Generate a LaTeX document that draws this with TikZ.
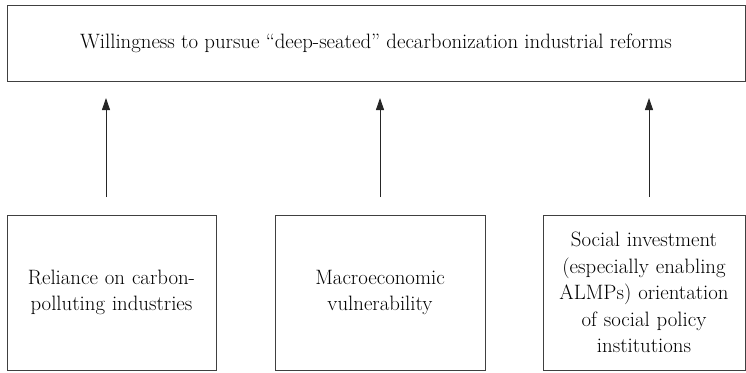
\documentclass[tikz,border=0pt]{standalone}
\usepackage{fontspec}
\usetikzlibrary{arrows.meta}

\begin{document}
\begin{tikzpicture}[x=1pt, y=-1pt,
  box/.style={draw=black!75, line width=1pt, align=center, inner sep=0pt,
              font=\fontsize{20.8}{26.5}\selectfont},
  up/.style={-{Triangle[length=12pt, width=8pt]}, line width=0.9pt, black!85}]

%─────────────
% Canvas
%─────────────
\useasboundingbox (0,0) rectangle (746,372);

%─────────────
% Boxes
%─────────────
\node[box, minimum width=738pt, minimum height=76pt] (goal) at (376,43)
  {Willingness to pursue ``deep-seated'' decarbonization industrial reforms};

\node[box, minimum width=209pt, minimum height=155pt, text width=205pt] (carbon) at (111.5,292.5)
  {Reliance on carbon-\\polluting industries};
\node[box, minimum width=210pt, minimum height=155pt, text width=205pt] (macro) at (380,292.5)
  {Macroeconomic\\vulnerability};
\node[box, minimum width=202pt, minimum height=155pt, text width=198pt] (social) at (644,292.5)
  {Social investment\\(especially enabling\\ALMPs) orientation\\of social policy\\institutions};

%─────────────
% Arrows
%─────────────
\coordinate (c1) at (106,197);  \coordinate (g1) at (106,98);
\coordinate (c2) at (380,197);  \coordinate (g2) at (380,98);
\coordinate (c3) at (649,197);  \coordinate (g3) at (649,98);
\draw[up] (c1) -- (g1);
\draw[up] (c2) -- (g2);
\draw[up] (c3) -- (g3);
\end{tikzpicture}
\end{document}
